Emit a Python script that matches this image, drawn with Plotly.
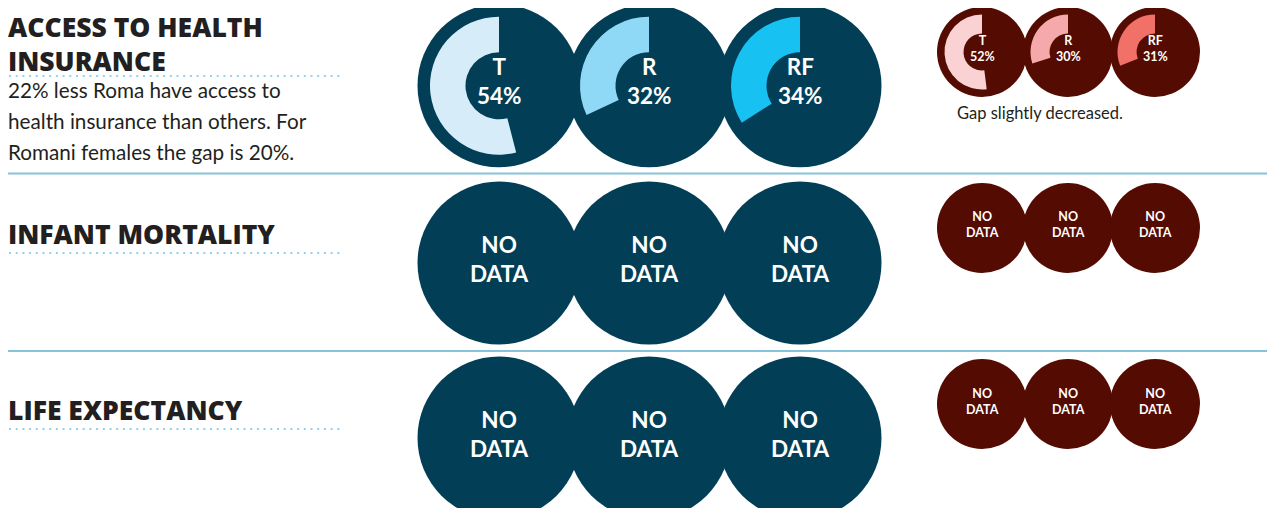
import plotly.graph_objects as go

# ---------------- data ----------------
metric_titles = [["ACCESS TO HEALTH", "INSURANCE"], ["INFANT MORTALITY"], ["LIFE EXPECTANCY"]]
description_lines = ["22% less Roma have access to",
                     "health insurance than others. For",
                     "Romani females the gap is 20%."]
groups = ["T", "R", "RF"]
current_values = [54, 32, 34]        # access to health insurance (%), main circles
previous_values = [52, 30, 31]       # comparison circles (%)
infant_mortality = [None, None, None]
life_expectancy = [None, None, None]
comparison_note = "Gap slightly decreased."

# ---------------- style ----------------
PAGE_W, PAGE_H = 1275, 516
OFF = 8                      # page body margin
W, H = PAGE_W - 2 * OFF, PAGE_H - 2 * OFF
BLUE_DARK = "#023f57"
BLUE_RINGS = ["#d6edf9", "#8fd8f6", "#17c1f1"]
RED_DARK = "#540b01"
RED_RINGS = ["#fad2d3", "#f5a9aa", "#f17169"]
TXT = "#231f20"
LINE = "#86c2da"
DOT = "#8fd3ee"
FONT = "Lato"
HEAVY = "Open Sans"


def fx(x):  # page pixel -> paper fraction
    return (x - OFF) / W


def fy(y):
    return 1 - (y - OFF) / H


fig = go.Figure()
annotations = []
shapes = []

big = dict(xs=[499, 649, 800], r=81.5, ro=69, ri=33.5, fs=22.5, mid=-4.5)
small = dict(xs=[982, 1068, 1155], r=45, ro=37.5, ri=18.5, fs=12.5, mid=-3)
rows_big_y = [85.7, 263, 438]
rows_small_y = [52, 228, 404]

rows_main = [current_values, infant_mortality, life_expectancy]
rows_prev = [previous_values, [None] * 3, [None] * 3]

rings = []


def add_circles(cfg, cy, values, dark, ring_cols):
    xs = cfg["xs"]
    fig.add_trace(go.Scatter(x=xs, y=[cy] * len(xs), mode="markers", cliponaxis=False,
                             marker=dict(size=2 * cfg["r"], color=dark, line=dict(width=0)),
                             hoverinfo="skip", showlegend=False))
    for i, (cx, v) in enumerate(zip(xs, values)):
        if v is not None:
            ro = cfg["ro"]
            # share drawn from 12 o'clock going counter-clockwise (left side)
            rings.append(go.Pie(values=[100 - v, v], hole=cfg["ri"] / ro, sort=False,
                                direction="clockwise", rotation=0,
                                marker=dict(colors=["rgba(0,0,0,0)", ring_cols[i]]),
                                textinfo="none", hoverinfo="skip", showlegend=False,
                                domain=dict(x=[fx(cx - ro), fx(cx + ro)], y=[fy(cy + ro), fy(cy - ro)])))
            label = f"{groups[i]}<br>{v}%"
        else:
            label = "NO<br>DATA"
        annotations.append(dict(x=fx(cx), y=fy(cy + cfg["mid"]), xref="paper", yref="paper",
                                text=label, showarrow=False, xanchor="center", yanchor="middle",
                                borderpad=0,
                                font=dict(family=FONT, size=cfg["fs"], color="white", weight="bold")))


for k in range(3):
    add_circles(big, rows_big_y[k], rows_main[k], BLUE_DARK, BLUE_RINGS)
    add_circles(small, rows_small_y[k], rows_prev[k], RED_DARK, RED_RINGS)

for t in rings:
    fig.add_trace(t)

# titles
title_y = [44, 234, 410]
dot_y = [76, 253, 429]
for k in range(3):
    annotations.append(dict(x=fx(7), y=fy(title_y[k]), xref="paper", yref="paper",
                            text="<br>".join(metric_titles[k]), align="left",
                            showarrow=False, xanchor="left", yanchor="middle", borderpad=0,
                            font=dict(family=HEAVY, size=26.5, color=TXT, weight=800)))
    shapes.append(dict(type="line", xref="paper", yref="paper", x0=fx(9), x1=fx(342),
                       y0=fy(dot_y[k]), y1=fy(dot_y[k]),
                       line=dict(color=DOT, width=2, dash="2px,4.7px")))

for txt, y in zip(description_lines, [89.5, 121, 152.5]):
    annotations.append(dict(x=fx(7), y=fy(y), xref="paper", yref="paper", text=txt,
                            showarrow=False, xanchor="left", yanchor="middle", borderpad=0,
                            font=dict(family=FONT, size=20.7, color=TXT)))

annotations.append(dict(x=fx(956), y=fy(113.5), xref="paper", yref="paper", text=comparison_note,
                        showarrow=False, xanchor="left", yanchor="middle", borderpad=0,
                        font=dict(family=FONT, size=16.5, color=TXT)))

for y in [173.5, 351]:
    shapes.append(dict(type="line", xref="paper", yref="paper", x0=fx(8), x1=1,
                       y0=fy(y), y1=fy(y), line=dict(color=LINE, width=2)))

fig.update_layout(width=W, height=H, margin=dict(l=0, r=0, t=0, b=0),
                  paper_bgcolor="white", plot_bgcolor="white",
                  xaxis=dict(range=[OFF, OFF + W], visible=False, fixedrange=True),
                  yaxis=dict(range=[OFF + H, OFF], visible=False, fixedrange=True),
                  annotations=annotations, shapes=shapes, showlegend=False)
fig.write_html("out.html")
